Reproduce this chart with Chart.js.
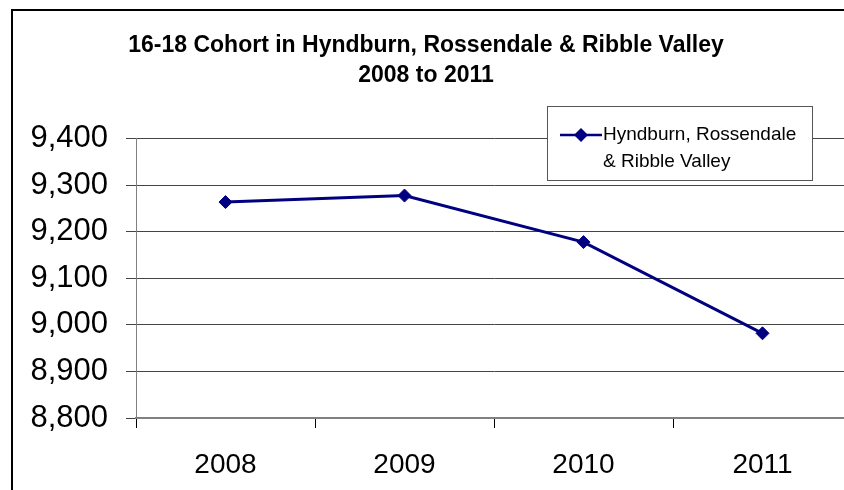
<!DOCTYPE html>
<html>
<head>
<meta charset="utf-8">
<script src="https://cdn.jsdelivr.net/npm/chart.js@4.4.0/dist/chart.umd.min.js"></script>
<style>
  html, body { margin: 0; padding: 0; background: #fff; overflow: hidden; }
  #wrap { position: relative; width: 860px; height: 490px; }
  #frame {
    position: absolute; left: 11px; top: 9px; width: 900px; height: 600px;
    border-top: 2px solid #000; border-left: 2px solid #000; pointer-events: none;
  }
</style>
</head>
<body>
<div id="wrap">
  <canvas id="chart"></canvas>
  <div id="frame"></div>
</div>
<script>
// chart data
const years = ['2008', '2009', '2010', '2011'];
const cohort = [9264, 9278, 9178, 8982];
const seriesName = 'Hyndburn, Rossendale & Ribble Valley';
const titleLines = ['16-18 Cohort in Hyndburn, Rossendale & Ribble Valley', '2008 to 2011'];
const yMin = 8800;
const yMax = 9400;
const yStep = 100;

const navy = '#000080';
const fontFamily = "'Liberation Sans', Arial, sans-serif";

// legend drawn inside the plot, like the original spreadsheet chart
const boxLegend = {
  id: 'boxLegend',
  afterDraw(chart) {
    const ctx = chart.ctx;
    const ds = chart.data.datasets[0];
    const x = 547, y = 106, w = 265, h = 74;

    ctx.save();
    ctx.fillStyle = '#fff';
    ctx.fillRect(x, y, w, h);
    ctx.strokeStyle = '#555';
    ctx.lineWidth = 1;
    ctx.strokeRect(x + 0.5, y + 0.5, w, h);

    // sample line + marker
    ctx.strokeStyle = navy;
    ctx.lineWidth = 2.5;
    ctx.beginPath();
    ctx.moveTo(x + 13, y + 29);
    ctx.lineTo(x + 55, y + 29);
    ctx.stroke();
    ctx.fillStyle = navy;
    ctx.beginPath();
    ctx.moveTo(x + 34, y + 22);
    ctx.lineTo(x + 41, y + 29);
    ctx.lineTo(x + 34, y + 36);
    ctx.lineTo(x + 27, y + 29);
    ctx.closePath();
    ctx.fill();

    // wrapped label
    ctx.font = '19px ' + fontFamily;
    ctx.fillStyle = '#000';
    ctx.textBaseline = 'middle';
    const words = ds.label.split(' ');
    const lines = [];
    let cur = '';
    words.forEach(word => {
      const test = cur ? cur + ' ' + word : word;
      if (cur && ctx.measureText(test).width > 200) {
        lines.push(cur);
        cur = word;
      } else {
        cur = test;
      }
    });
    lines.push(cur);
    lines.forEach((line, i) => ctx.fillText(line, x + 56, y + 29 + i * 27));
    ctx.restore();
  }
};

new Chart(document.getElementById('chart'), {
  type: 'line',
  data: {
    labels: years,
    datasets: [{
      label: seriesName,
      data: cohort,
      borderColor: navy,
      backgroundColor: navy,
      borderWidth: 3,
      tension: 0,
      pointStyle: 'rectRot',
      pointRadius: 6.5,
      pointHoverRadius: 6.5,
      pointBorderWidth: 1,
      pointBackgroundColor: navy,
      pointBorderColor: navy
    }]
  },
  options: {
    responsive: true,
    maintainAspectRatio: false,
    animation: false,
    layout: { padding: { top: 0, left: 0, right: 8, bottom: 0 } },
    plugins: {
      legend: { display: false },
      tooltip: { enabled: false },
      title: {
        display: true,
        text: titleLines,
        color: '#000',
        font: { family: fontFamily, size: 23, weight: 'bold', lineHeight: 1.3 },
        padding: { top: 31, bottom: 48 }
      }
    },
    scales: {
      x: {
        offset: true,
        afterFit(scale) { scale.height = 72; },
        grid: {
          offset: true,
          drawOnChartArea: false,
          tickLength: 10,
          color: '#000',
          tickColor: '#000'
        },
        border: { color: '#808080', width: 2 },
        ticks: {
          color: '#000',
          padding: 20,
          font: { family: fontFamily, size: 28 }
        }
      },
      y: {
        min: yMin,
        max: yMax,
        afterFit(scale) { scale.width = 136; },
        grid: {
          color: '#444',
          lineWidth: 1,
          tickLength: 10,
          tickColor: '#444'
        },
        border: { color: '#808080', width: 1 },
        ticks: {
          stepSize: yStep,
          color: '#000',
          padding: 18,
          font: { family: fontFamily, size: 31 },
          callback: v => v.toLocaleString('en-US')
        }
      }
    }
  },
  plugins: [boxLegend]
});
</script>
</body>
</html>
